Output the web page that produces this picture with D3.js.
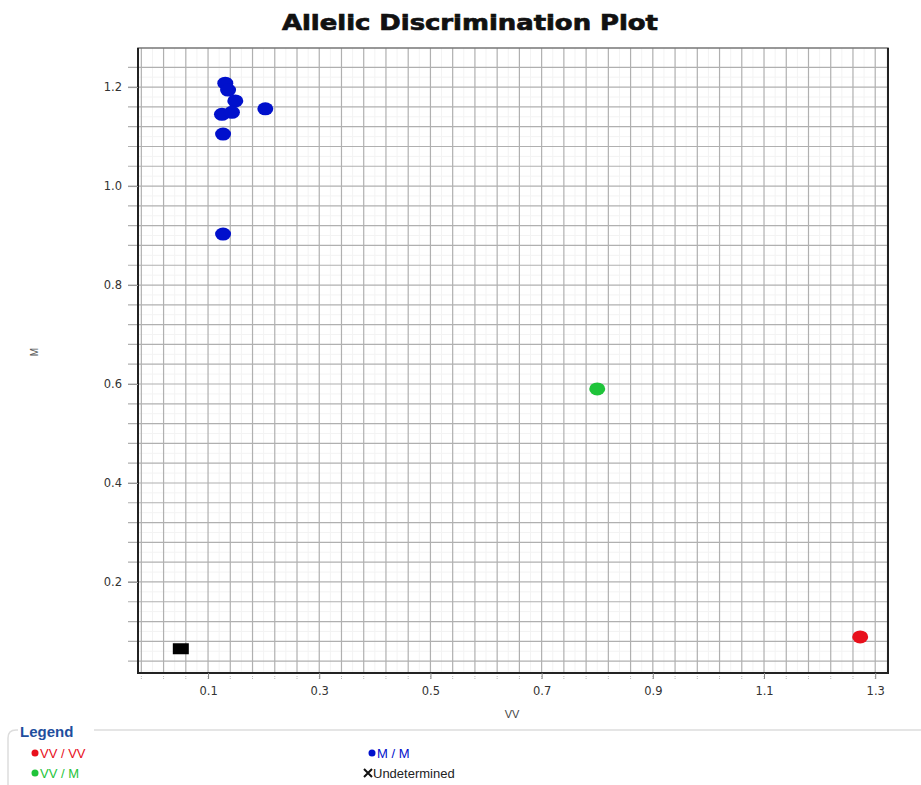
<!DOCTYPE html>
<meta charset="utf-8">
<style>
body { margin: 0; background: #fff; }
text { font-family: "Liberation Sans", Arial, sans-serif; }
</style>
<body>
<script src="https://d3js.org/d3.v7.min.js"></script>
<script>

// genotype calls (x = VV, y = M)
var mmX = [0.131, 0.136, 0.149, 0.125, 0.143, 0.203, 0.127, 0.127];
var mmY = [1.208, 1.194, 1.172, 1.145, 1.149, 1.156, 1.105, 0.903];
var vvmX = [0.800];
var vvmY = [0.590];
var vvX = [1.273];
var vvY = [0.089];
var undX = [0.051];
var undY = [0.065];

var xTickLabels = [0.1, 0.3, 0.5, 0.7, 0.9, 1.1, 1.3];
var yTickLabels = [0.2, 0.4, 0.6, 0.8, 1.0, 1.2];

var legendItems = ["VV / VV", "VV / M", "M / M", "Undetermined"];
var legendColors = ["#e8101c", "#1fc43a", "#0010cc", "#111"];

var W = 921, H = 785;
var pLeft = 138, pRight = 888, pTop = 48, pBottom = 673;

var x = d3.scaleLinear().domain([-0.026, 1.323]).range([pLeft, pRight]);
var y = d3.scaleLinear().domain([0.016, 1.279]).range([pBottom, pTop]);

var svg = d3.select("body").append("svg")
    .attr("width", W)
    .attr("height", H);

// title
svg.append("text")
    .attr("x", 470)
    .attr("y", 30)
    .attr("text-anchor", "middle")
    .attr("textLength", 376)
    .attr("lengthAdjust", "spacingAndGlyphs")
    .style("font-family", "DejaVu Sans, sans-serif")
    .style("font-weight", "bold")
    .style("font-size", "21px")
    .style("fill", "#111")
    .style("stroke", "#111")
    .style("stroke-width", 0.7)
    .text("Allelic Discrimination Plot");

// grid, every 0.04
var gx = d3.range(-0.02, 1.32, 0.04);
var gy = d3.range(0.04, 1.28, 0.04);

svg.append("g").selectAll("line")
    .data(gx)
  .enter().append("line")
    .attr("x1", function(d) { return x(d + 0.02); })
    .attr("x2", function(d) { return x(d + 0.02); })
    .attr("y1", pTop).attr("y2", pBottom)
    .style("stroke", "#f3f3f3").style("stroke-width", 1);

svg.append("g").selectAll("line")
    .data(gy)
  .enter().append("line")
    .attr("y1", function(d) { return y(d - 0.02); })
    .attr("y2", function(d) { return y(d - 0.02); })
    .attr("x1", pLeft).attr("x2", pRight)
    .style("stroke", "#f3f3f3").style("stroke-width", 1);

svg.append("g").selectAll("line")
    .data(gx)
  .enter().append("line")
    .attr("x1", function(d) { return x(d); })
    .attr("x2", function(d) { return x(d); })
    .attr("y1", pTop).attr("y2", pBottom)
    .style("stroke", "#b0b0b0").style("stroke-width", 1.2);

svg.append("g").selectAll("line")
    .data(gy)
  .enter().append("line")
    .attr("y1", function(d) { return y(d); })
    .attr("y2", function(d) { return y(d); })
    .attr("x1", pLeft - 10).attr("x2", pRight)
    .style("stroke", "#b0b0b0").style("stroke-width", 1.2);

// small ticks under the x axis
svg.append("g").selectAll("line")
    .data(gx)
  .enter().append("line")
    .attr("x1", function(d) { return x(d); })
    .attr("x2", function(d) { return x(d); })
    .attr("y1", pBottom + 3).attr("y2", pBottom + 7)
    .style("stroke", "#bbb").style("stroke-dasharray", "1,1");

// frame
svg.append("rect")
    .attr("x", pLeft).attr("y", pTop)
    .attr("width", pRight - pLeft).attr("height", pBottom - pTop)
    .style("fill", "none").style("stroke", "#777").style("stroke-width", 1.5);
svg.append("path")
    .attr("d", "M" + pLeft + "," + pTop + "V" + pBottom + "H" + pRight + "V" + pTop)
    .style("fill", "none").style("stroke", "#222").style("stroke-width", 2);

// axes, drawn with d3 axis and then trimmed
var xAxis = svg.append("g")
    .attr("transform", "translate(0," + pBottom + ")")
    .call(d3.axisBottom(x).tickValues(xTickLabels).tickFormat(d3.format(".1f")).tickSize(6).tickPadding(8));
xAxis.select(".domain").remove();
xAxis.selectAll("line").style("stroke", "#888");
xAxis.selectAll("text").style("font-size", "11.5px").style("fill", "#333")
    .style("font-family", "DejaVu Sans, sans-serif");

var yAxis = svg.append("g")
    .attr("transform", "translate(" + pLeft + ",0)")
    .call(d3.axisLeft(y).tickValues(yTickLabels).tickFormat(d3.format(".1f")).tickSize(10).tickPadding(6));
yAxis.select(".domain").remove();
yAxis.selectAll("line").style("stroke", "#999");
yAxis.selectAll("text").style("font-size", "11.5px").style("fill", "#333")
    .style("font-family", "DejaVu Sans, sans-serif");

svg.append("text")
    .attr("x", 512).attr("y", 718)
    .attr("text-anchor", "middle")
    .style("font-size", "11px").style("fill", "#444")
    .text("VV");

svg.append("text")
    .attr("transform", "translate(38,352) rotate(-90)")
    .attr("text-anchor", "middle")
    .style("font-size", "10px").style("fill", "#555")
    .text("M");

// points
function dots(xs, ys, color) {
  svg.append("g").selectAll("ellipse")
      .data(xs)
    .enter().append("ellipse")
      .attr("cx", function(d) { return x(d); })
      .attr("cy", function(d, i) { return y(ys[i]); })
      .attr("rx", 8)
      .attr("ry", 6.5)
      .style("fill", color);
}
dots(mmX, mmY, legendColors[2]);
dots(vvmX, vvmY, legendColors[1]);
dots(vvX, vvY, legendColors[0]);

svg.append("g").selectAll("rect")
    .data(undX)
  .enter().append("rect")
    .attr("x", function(d) { return x(d) - 8; })
    .attr("y", function(d, i) { return y(undY[i]) - 5.5; })
    .attr("width", 16)
    .attr("height", 11)
    .style("fill", "#000");

// legend
svg.append("path")
    .attr("d", "M8," + H + "V738Q8,730 16,730H18M94,730H" + W)
    .style("fill", "none").style("stroke", "#ddd").style("stroke-width", 1.5);

svg.append("text")
    .attr("x", 20).attr("y", 737)
    .style("font-size", "15px").style("font-weight", "bold")
    .style("fill", "#1f4f9e")
    .text("Legend");

var legPos = [[35, 753], [35, 773], [372, 753], [368, 773]];

var leg = svg.append("g").selectAll("g")
    .data(legendItems)
  .enter().append("g")
    .attr("transform", function(d, i) { return "translate(" + legPos[i][0] + "," + legPos[i][1] + ")"; });

leg.filter(function(d, i) { return i < 3; })
  .append("circle")
    .attr("r", 3.5)
    .style("fill", function(d) { return legendColors[legendItems.indexOf(d)]; });

leg.filter(function(d, i) { return i == 3; })
  .append("path")
    .attr("d", "M-4,-4L4,4M-4,4L4,-4")
    .style("stroke", "#111").style("stroke-width", 2);

leg.append("text")
    .attr("x", 5)
    .attr("y", 4.5)
    .style("font-size", "13px")
    .style("fill", function(d, i) { return i == 3 ? "#222" : legendColors[i]; })
    .text(function(d) { return d; });

</script>
</body>
